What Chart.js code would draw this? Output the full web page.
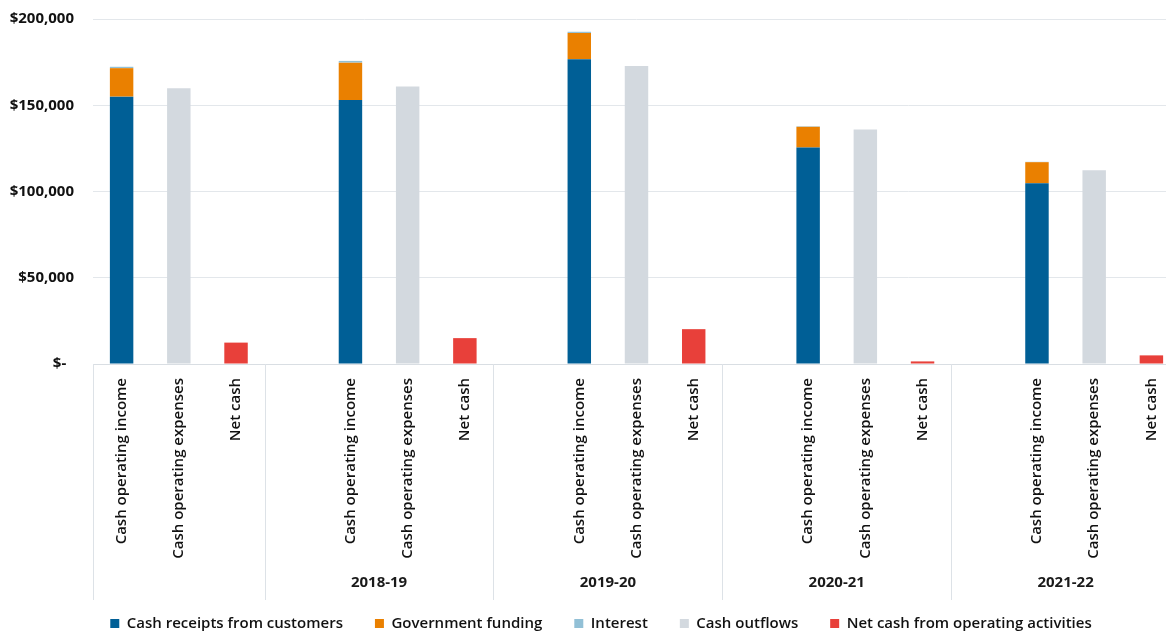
<!DOCTYPE html>
<html>
<head>
<meta charset="utf-8">
<script src="https://cdn.jsdelivr.net/npm/chart.js@4/dist/chart.umd.min.js"></script>
<style>
  html, body { margin: 0; padding: 0; background: #fff; overflow: hidden; }
  #wrap { width: 1180px; height: 643px; }
</style>
</head>
<body>
<div id="wrap"><canvas id="cashChart"></canvas></div>
<script>
// one entry per year group
let groupLabels = ['', '2018-19', '2019-20', '2020-21', '2021-22'];
let barNames = ['Cash operating income', 'Cash operating expenses', 'Net cash'];

let receipts = [155000, 153000, 176700, 125500, 104800];
let funding = [16500, 21700, 15200, 12000, 12200];
let interest = [800, 1000, 700, 300, 200];
let outflows = [159900, 160800, 172800, 136000, 112300];
let netCash = [12400, 15000, 20200, 1500, 5000];

let yTicks = [0, 50000, 100000, 150000, 200000];

// build category slots: a blank slot before every group except the first
let categories = [];
let slotOf = [];   // slotOf[g] = index of "Cash operating income" in group g
let groupEdges = []; // [firstSlot, lastSlot] per group
groupLabels.forEach(function (g, i) {
    let start = categories.length;
    if (i > 0) categories.push('');
    slotOf.push(categories.length);
    barNames.forEach(n => categories.push(n));
    groupEdges.push([start, categories.length - 1]);
});

function place(values, offset) {
    let arr = categories.map(() => null);
    values.forEach((v, g) => { arr[slotOf[g] + offset] = v; });
    return arr;
}

let groupPlugin = {
    id: 'groupPlugin',
    afterLayout(chart) {
        // nudge legend a little to the right, like the original
        chart.legend.left += 11;
        chart.legend.right += 11;
    },
    afterDraw(chart) {
        let x = chart.scales.x;
        let ctx = chart.ctx;
        let half = (x.getPixelForValue(1) - x.getPixelForValue(0)) / 2;
        let top = chart.chartArea.bottom;
        ctx.save();
        ctx.strokeStyle = '#dde2e7';
        ctx.lineWidth = 1;
        groupEdges.forEach(function (e, i) {
            let left = x.getPixelForValue(e[0]) - half;
            let right = x.getPixelForValue(e[1]) + half;
            [left, right].forEach(function (px) {
                ctx.beginPath();
                ctx.moveTo(Math.round(px) + 0.5, top);
                ctx.lineTo(Math.round(px) + 0.5, top + 236);
                ctx.stroke();
            });
            ctx.fillStyle = '#1a1a1a';
            ctx.font = 'bold 15px "Open Sans"';
            ctx.textAlign = 'center';
            ctx.textBaseline = 'middle';
            ctx.fillText(groupLabels[i], (left + right) / 2, top + 219);
        });
        ctx.restore();
    }
};

let ctx = document.getElementById('cashChart').getContext('2d');

new Chart(ctx, {
    type: 'bar',
    data: {
        labels: categories,
        datasets: [
            { label: 'Cash receipts from customers', data: place(receipts, 0), backgroundColor: '#005f96' },
            { label: 'Government funding', data: place(funding, 0), backgroundColor: '#ea8000' },
            { label: 'Interest', data: place(interest, 0), backgroundColor: '#92c0d6' },
            { label: 'Cash outflows', data: place(outflows, 1), backgroundColor: '#d3d9df' },
            { label: 'Net cash from operating activities', data: place(netCash, 2), backgroundColor: '#e8403a' }
        ]
    },
    options: {
        responsive: true,
        maintainAspectRatio: false,
        animation: false,
        barPercentage: 0.41,
        categoryPercentage: 1,
        layout: { padding: { top: 19, right: 0, left: 0, bottom: 2 } },
        scales: {
            x: {
                stacked: true,
                grid: { display: false },
                border: { display: true, color: '#d9dee3' },
                afterFit(scale) { scale.height = 220; },
                ticks: {
                    autoSkip: false,
                    minRotation: 90,
                    maxRotation: 90,
                    padding: 6,
                    color: '#111',
                    font: { family: 'Open Sans', size: 15, weight: '600' }
                }
            },
            y: {
                stacked: true,
                min: 0,
                max: 200000,
                afterFit(scale) { scale.width = 93; scale.paddingTop = 0; },
                afterBuildTicks(scale) { scale.ticks = yTicks.map(v => ({ value: v })); },
                grid: { color: '#e3e7eb', drawTicks: false },
                border: { display: false },
                ticks: {
                    padding: 19,
                    color: '#111',
                    font: { family: 'Open Sans', size: 15, weight: 'bold' },
                    callback: v => v === 0 ? '$-  ' : '$' + v.toLocaleString('en-US')
                }
            }
        },
        plugins: {
            tooltip: { enabled: false },
            legend: {
                position: 'bottom',
                align: 'center',
                labels: {
                    boxWidth: 9,
                    boxHeight: 9,
                    padding: 32,
                    color: '#111',
                    font: { family: 'Open Sans', size: 15, weight: '600' }
                }
            }
        }
    },
    plugins: [groupPlugin]
});
</script>
</body>
</html>
